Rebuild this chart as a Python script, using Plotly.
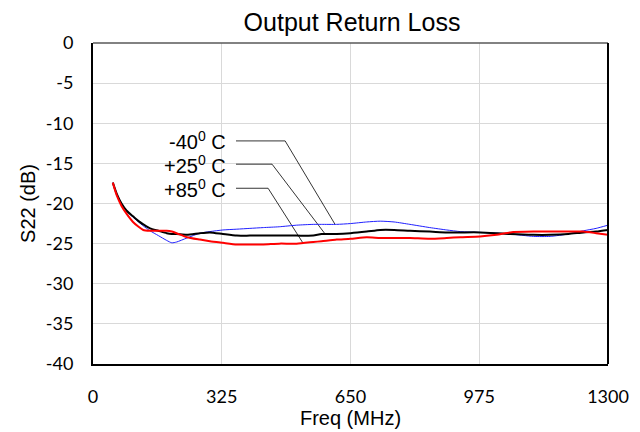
import numpy as np
import plotly.graph_objects as go

freq = [50, 60, 72, 85, 101, 115, 127, 144, 165, 186, 199, 211, 237, 270, 295, 328, 363, 396,
        430, 470, 514, 556, 577, 615, 650, 691, 725, 760, 800, 850, 893, 927, 977, 1019, 1053,
        1112, 1154, 1200, 1238, 1270, 1300]

s22_m40 = [-17.4, -18.8, -20.0, -20.9, -21.7, -22.3, -22.8, -23.4, -24.0, -24.6, -24.9, -24.8,
           -24.3, -23.7, -23.5, -23.3, -23.2, -23.1, -23.0, -22.9, -22.7, -22.6, -22.6, -22.6,
           -22.5, -22.3, -22.2, -22.3, -22.6, -23.0, -23.3, -23.5, -23.6, -23.7, -23.8, -24.1,
           -24.1, -23.8, -23.4, -23.1, -22.7]

s22_p25 = [-17.4, -18.8, -20.0, -20.9, -21.6, -22.2, -22.6, -23.1, -23.4, -23.7, -23.8, -23.8,
           -23.9, -23.7, -23.6, -23.8, -24.0, -24.0, -24.0, -24.0, -24.0, -24.0, -23.8, -23.8,
           -23.7, -23.5, -23.3, -23.3, -23.4, -23.5, -23.6, -23.6, -23.6, -23.7, -23.8, -23.9,
           -23.9, -23.8, -23.6, -23.5, -23.3]

s22_p85 = [-17.4, -19.0, -20.3, -21.3, -22.3, -22.9, -23.3, -23.4, -23.4, -23.4, -23.5, -23.7,
           -24.2, -24.5, -24.7, -24.9, -25.1, -25.1, -25.1, -25.0, -25.0, -24.8, -24.7, -24.5,
           -24.4, -24.2, -24.3, -24.3, -24.3, -24.4, -24.3, -24.2, -24.1, -23.9, -23.6, -23.5,
           -23.5, -23.5, -23.5, -23.7, -23.9]

x_ticks = [0, 325, 650, 975, 1300]
y_ticks = [0, -5, -10, -15, -20, -25, -30, -35, -40]

label_texts = ["-40<sup>0</sup> C", "+25<sup>0</sup> C", "+85<sup>0</sup> C"]
label_db = [-12.2, -15.1, -18.1]
label_text_freq = 341
label_line_start = [361, 361, 361]
label_elbow = [485, 452, 442]
label_target = [611, 586, 530]

series = [s22_m40, s22_p25, s22_p85]
colors = ["#1f1fff", "#000000", "#ff0000"]
widths = [1, 2, 2]

fig = go.Figure()

for i in range(3):
    ty = float(np.interp(label_target[i], freq, series[i]))
    fig.add_trace(go.Scatter(
        x=[label_line_start[i], label_elbow[i], label_target[i]],
        y=[label_db[i], label_db[i], ty],
        mode="lines", line=dict(color="#000000", width=0.8),
        hoverinfo="skip", showlegend=False))

for s, c, w in zip(series, colors, widths):
    fig.add_trace(go.Scatter(x=freq, y=s, mode="lines",
                             line=dict(color=c, width=w, shape="spline", smoothing=0.6),
                             showlegend=False))

for i in range(3):
    fig.add_annotation(x=label_text_freq, y=label_db[i], text=label_texts[i], showarrow=False,
                       xanchor="right", yanchor="middle",
                       font=dict(family="Liberation Sans, Arial", size=20, color="#000000"))

fig.update_layout(
    width=640, height=432,
    margin=dict(l=85, r=40, t=35, b=76, autoexpand=False),
    paper_bgcolor="white", plot_bgcolor="white",
    title=dict(text="Output Return Loss", x=0.5375, xanchor="center",
               yref="container", y=0.968, yanchor="middle", automargin=False,
               font=dict(family="Liberation Sans, Arial", size=25, color="#000000")),
    xaxis=dict(range=[0, 1300], tickvals=x_ticks, ticktext=[str(v) for v in x_ticks],
               showgrid=True, gridcolor="#d9d9d9", gridwidth=1, zeroline=False,
               showline=True, linecolor="#000000", linewidth=2, ticks="",
               ticklabelstandoff=15, automargin=False,
               tickfont=dict(family="Lato, Calibri", size=18, color="#000000"),
               title=dict(text="Freq (MHz)", standoff=0,
                          font=dict(family="Liberation Sans, Arial", size=20, color="#000000"))),
    yaxis=dict(range=[-40, 0], tickvals=y_ticks, ticktext=[str(v) for v in y_ticks],
               showgrid=True, gridcolor="#d9d9d9", gridwidth=1, zeroline=False,
               showline=True, linecolor="#000000", linewidth=2, ticks="",
               ticklabelstandoff=14, automargin=False,
               tickfont=dict(family="Lato, Calibri", size=18, color="#000000"),
               title=dict(text="S22 (dB)", standoff=5,
                          font=dict(family="Liberation Sans, Arial", size=20, color="#000000"))),
    shapes=[
        dict(type="line", xref="paper", yref="paper", x0=0, x1=1, y0=1, y1=1,
             line=dict(color="#595959", width=1.5)),
        dict(type="line", xref="paper", yref="paper", x0=1, x1=1, y0=0, y1=1,
             line=dict(color="#000000", width=2)),
    ],
)

fig.write_html("out.html")
